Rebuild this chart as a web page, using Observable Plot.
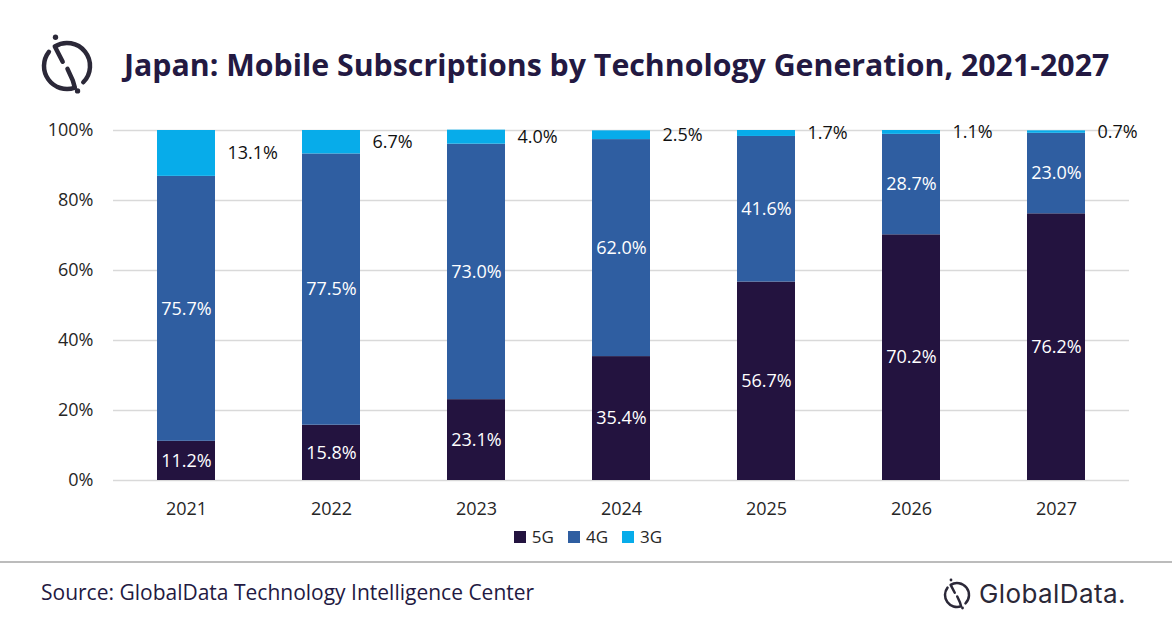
<!DOCTYPE html>
<html>
<head>
<meta charset="utf-8">
<script src="https://cdn.jsdelivr.net/npm/d3@7"></script>
<script src="https://cdn.jsdelivr.net/npm/@observablehq/plot@0.6"></script>
<style>
  html, body { margin: 0; padding: 0; background: #fff; }
  #wrap { position: relative; width: 1172px; height: 628px; overflow: hidden; font-family: "Open Sans", sans-serif; }
  #header { position: absolute; left: 0; top: 0; }
  #chart { position: absolute; left: 0; top: 110px; }
  #legend { position: absolute; left: 2px; top: 525px; width: 1172px; display: flex; justify-content: center; font-size: 17px; color: #262626; }
  #legend .item { display: flex; align-items: center; margin: 0 7px; }
  #legend .sw { width: 12px; height: 12px; margin-right: 6px; }
  #footer { position: absolute; left: 0; top: 556px; }
</style>
</head>
<body>
<div id="wrap">
  <div id="header"></div>
  <div id="chart"></div>
  <div id="legend"></div>
  <div id="footer"></div>
</div>
<script>
const years = ["2021", "2022", "2023", "2024", "2025", "2026", "2027"];
const techs = ["5G", "4G", "3G"];
const share5G = [11.2, 15.8, 23.1, 35.4, 56.7, 70.2, 76.2];
const share4G = [75.7, 77.5, 73.0, 62.0, 41.6, 28.7, 23.0];
const share3G = [13.1, 6.7, 4.0, 2.5, 1.7, 1.1, 0.7];
const colors = ["#23133f", "#2f5ea1", "#07acea"];
const yTicks = [0, 20, 40, 60, 80, 100];
const titleText = "Japan: Mobile Subscriptions by Technology Generation, 2021-2027";
const sourceText = "Source: GlobalData Technology Intelligence Center";

const series = [share5G, share4G, share3G];
const data = years.flatMap((yr, i) => techs.map((t, j) => ({year: yr, tech: t, value: series[j][i]})));
const fmt = v => v.toFixed(1) + "%";

// logo drawing helper (decoration)
function logo(cx, cy, r, sw, col) {
  const pt = a => [cx + r * Math.cos(a * Math.PI / 180), cy + r * Math.sin(a * Math.PI / 180)];
  const [a1x, a1y] = pt(-122), [a2x, a2y] = pt(45);
  const [b1x, b1y] = pt(70), [b2x, b2y] = pt(218);
  const s = r / 24;
  return `<g fill="none" stroke="${col}" stroke-width="${sw}" stroke-linecap="round" stroke-linejoin="round">
    <path d="M${cx - 4.5 * s},${cy - 4.5 * s} L${a1x},${a1y} A${r},${r} 0 0 1 ${a2x},${a2y}"/>
    <path d="M${cx + 0.5 * s},${cy + 3 * s} L${cx + 6 * s},${cy + 15 * s} L${b1x},${b1y} A${r},${r} 0 0 1 ${b2x},${b2y}"/>
  </g>
  <circle cx="${cx - 12 * s}" cy="${cy - 30 * s}" r="${2.8 * s}" fill="${col}"/>
  <circle cx="${cx + 11 * s}" cy="${cy + 26 * s}" r="${2.8 * s}" fill="${col}"/>`;
}

document.getElementById("header").innerHTML =
  `<svg width="1172" height="110" xmlns="http://www.w3.org/2000/svg">
    ${logo(67, 66, 23, 4.5, "#2b2838")}
    <text x="124" y="76" font-family="Open Sans" font-weight="700" font-size="30.3px" fill="#231942">${titleText}</text>
  </svg>`;

const chart = Plot.plot({
  width: 1172,
  height: 410,
  marginLeft: 113,
  marginRight: 43,
  marginTop: 20,
  marginBottom: 40,
  style: {fontFamily: "Open Sans", fontSize: "18px", color: "#262626", background: "transparent", overflow: "visible"},
  x: {domain: years, paddingInner: 0.6, paddingOuter: 0.3, label: null, tickSize: 0, tickPadding: 22},
  y: {domain: [0, 100], ticks: yTicks, tickFormat: d => d + "%", label: null, tickSize: 0, tickPadding: 20},
  color: {domain: techs, range: colors},
  marks: [
    Plot.ruleY(yTicks, {stroke: "#d9d9d9", strokeWidth: 1.3}),
    Plot.barY(data, {x: "year", y: "value", fill: "tech"}),
    Plot.text(data, Plot.stackY({x: "year", y: "value", text: d => d.tech === "3G" ? "" : fmt(d.value), fill: "white", fontSize: 18})),
    Plot.text(data, Plot.stackY({x: "year", y: "value", text: d => d.tech === "3G" ? fmt(d.value) : "", fill: "#111", fontSize: 18, textAnchor: "start", dx: 41}))
  ]
});
document.getElementById("chart").appendChild(chart);

document.getElementById("legend").innerHTML = techs.map((t, i) =>
  `<span class="item"><span class="sw" style="background:${colors[i]}"></span>${t}</span>`).join("");

document.getElementById("footer").innerHTML =
  `<svg width="1172" height="72" xmlns="http://www.w3.org/2000/svg">
    <line x1="0" x2="1172" y1="6" y2="6" stroke="#a6a6a6" stroke-width="1.5"/>
    <text x="41" y="44" font-family="Open Sans" font-size="21px" fill="#231942">${sourceText}</text>
    ${logo(957, 39, 12, 2.5, "#2b2838")}
    <text x="979" y="47" font-family="Inter" font-size="26px" fill="#2b2838" letter-spacing="0.4">GlobalData.</text>
  </svg>`;
</script>
</body>
</html>
